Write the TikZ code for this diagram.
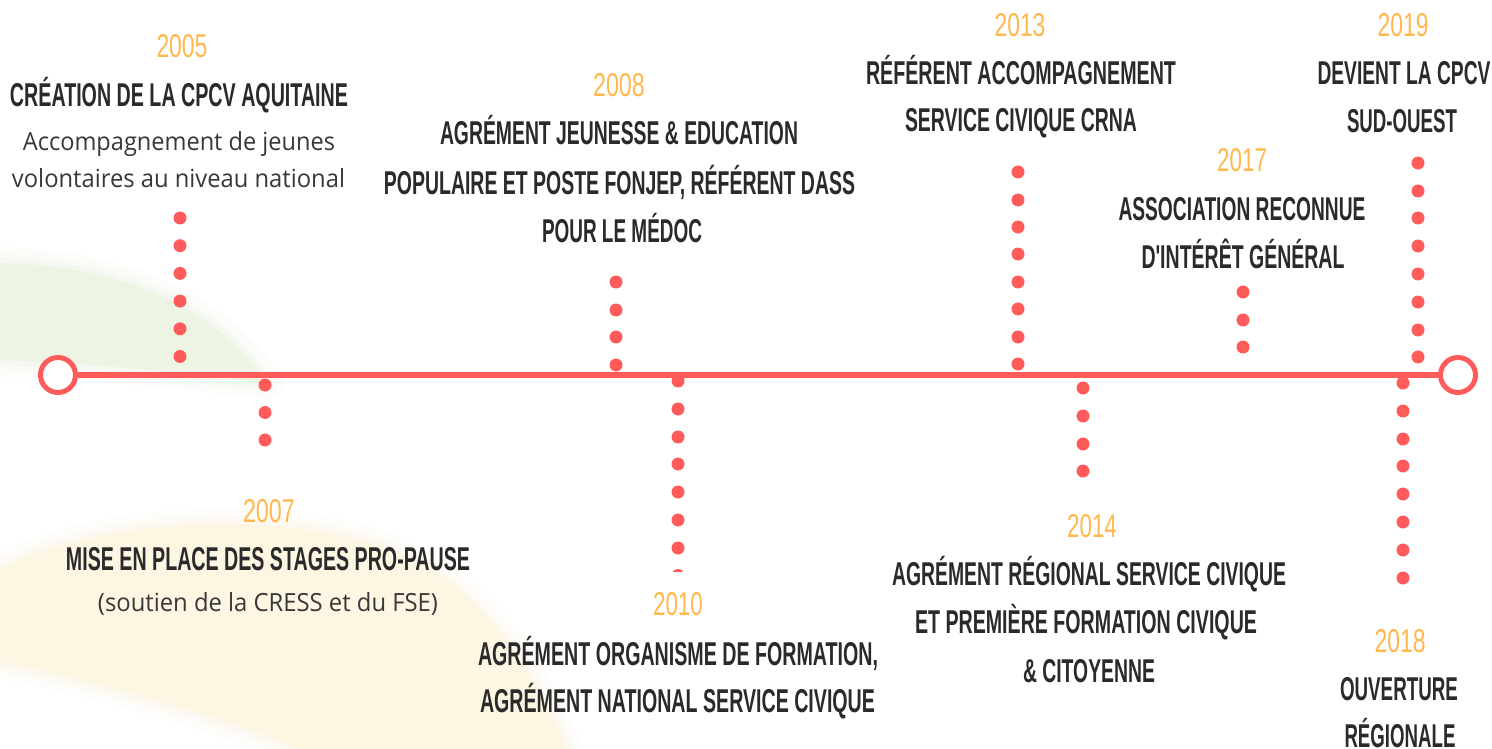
\documentclass[tikz,border=0pt]{standalone}
\usepackage{fontspec}
\usepackage{graphicx}
\setmainfont{Open Sans}
\newfontfamily\capsfam{Liberation Sans}
\newcommand\ttlfont{\capsfam\bfseries\fontsize{33}{33}\selectfont}
\newcommand\yrfont{\capsfam\fontsize{33}{33}\selectfont}
\newcommand\subfont{\fontsize{25}{25}\selectfont}
\newcommand\fitto[2]{\resizebox{#1pt}{\height}{#2}}
\definecolor{linered}{HTML}{FF5B5B}
\definecolor{yearc}{HTML}{FFB84D}
\definecolor{ttlc}{HTML}{2A2A2A}
\definecolor{subc}{HTML}{383838}
\definecolor{bggreen}{HTML}{EEF4E3}
\definecolor{bgyellow}{HTML}{FDF6E3}
\newcommand\softblob[2]{%
  \draw[#1, line width=32, opacity=0.12, line join=round] #2;
  \draw[#1, line width=20, opacity=0.2, line join=round] #2;
  \draw[#1, line width=10, opacity=0.3, line join=round] #2;
  \fill[#1] #2;}
\begin{document}
\begin{tikzpicture}[x=1pt,y=-1pt,
  yr/.style={font=\yrfont, text=yearc, anchor=base, inner sep=0},
  ttl/.style={font=\ttlfont, text=ttlc, anchor=base, inner sep=0},
  sub/.style={font=\subfont, text=subc, anchor=base, inner sep=0},
  ring/.style={circle, draw=linered, line width=5, fill=white, minimum size=35, inner sep=0},
  dotc/.style={fill=linered}]
\useasboundingbox (0,0) rectangle (1492,749);
\fill[white] (0,0) rectangle (1492,749);
% soft background arcs
\softblob{bggreen}{(-10,263) .. controls (110,263) and (210,300) .. (268,384) .. controls (200,374) and (80,362) .. (-10,360) -- cycle}
\softblob{bgyellow}{(-10,575) .. controls (80,520) and (300,500) .. (421,564) .. controls (490,600) and (540,680) .. (575,770) -- (345,770) .. controls (250,722) and (100,682) .. (-10,660) -- cycle}
% dots
\foreach \y in {218,245.7,273.4,301.1,328.8,356.5} \fill[dotc] (180,\y) circle (6.5);
\foreach \y in {385,412.5,440} \fill[dotc] (265,\y) circle (6.5);
\foreach \y in {282,310,337,365} \fill[dotc] (616,\y) circle (6.5);
\foreach \y in {381,409,437,464,492,520,548} \fill[dotc] (678,\y) circle (6.5);
\begin{scope}
  \clip (660,560) rectangle (700,571);
  \fill[dotc] (678,575.5) circle (6.5);
\end{scope}
\foreach \y in {172,200,227,254,282,309,337,364} \fill[dotc] (1018,\y) circle (6.5);
\foreach \y in {388,416,444,471} \fill[dotc] (1083,\y) circle (6.5);
\foreach \y in {292,320,347} \fill[dotc] (1243,\y) circle (6.5);
\foreach \y in {163,191,218,246,274,302,330,357} \fill[dotc] (1418,\y) circle (6.5);
\foreach \y in {383,411,439,466,494,522,550,578} \fill[dotc] (1403,\y) circle (6.5);
% timeline
\node[ring] (start) at (58,375) {};
\node[ring] (end) at (1458,375) {};
\draw[linered, line width=6.5] (start) -- (end);
% 2005
\node[yr] (y05) at (182,58) {\fitto{51}{2005}};
\node[ttl] (t05) at (179,107) {\fitto{338}{CRÉATION DE LA CPCV AQUITAINE}};
\node[sub] (s05a) at (179,151) {\fitto{312}{Accompagnement de jeunes}};
\node[sub] (s05b) at (178.5,187) {\fitto{333}{volontaires au niveau national}};
% 2007
\node[yr] (y07) at (269,522) {\fitto{52}{2007}};
\node[ttl] (t07) at (268,570) {\fitto{404}{MISE EN PLACE DES STAGES PRO-PAUSE}};
\node[sub] (s07) at (268,611) {\fitto{340}{(soutien de la CRESS et du FSE)}};
% 2008
\node[yr] (y08) at (619,97) {\fitto{52}{2008}};
\node[ttl] (t08a) at (619,145) {\fitto{358}{AGRÉMENT JEUNESSE \& EDUCATION}};
\node[ttl] (t08b) at (619.5,194) {\fitto{471}{POPULAIRE ET POSTE FONJEP, RÉFÉRENT DASS}};
\node[ttl] (t08c) at (622,242) {\fitto{160}{POUR LE MÉDOC}};
% 2010
\node[yr] (y10) at (678,615) {\fitto{50}{2010}};
\node[ttl] (t10a) at (678,665) {\fitto{400}{AGRÉMENT ORGANISME DE FORMATION,}};
\node[ttl] (t10b) at (677.5,712) {\fitto{395}{AGRÉMENT NATIONAL SERVICE CIVIQUE}};
% 2013
\node[yr] (y13) at (1020,37) {\fitto{51}{2013}};
\node[ttl] (t13a) at (1021,85) {\fitto{310}{RÉFÉRENT ACCOMPAGNEMENT}};
\node[ttl] (t13b) at (1021,132) {\fitto{232}{SERVICE CIVIQUE CRNA}};
% 2014
\node[yr] (y14) at (1092,537) {\fitto{50}{2014}};
\node[ttl] (t14a) at (1089,585) {\fitto{394}{AGRÉMENT RÉGIONAL SERVICE CIVIQUE}};
\node[ttl] (t14b) at (1086,633) {\fitto{342}{ET PREMIÈRE FORMATION CIVIQUE}};
\node[ttl] (t14c) at (1089,682) {\fitto{132}{\& CITOYENNE}};
% 2017
\node[yr] (y17) at (1242,172) {\fitto{50}{2017}};
\node[ttl] (t17a) at (1242,220) {\fitto{247}{ASSOCIATION RECONNUE}};
\node[ttl] (t17b) at (1243,268) {\fitto{203}{D'INTÉRÊT GÉNÉRAL}};
% 2019
\node[yr] (y19) at (1403,37) {\fitto{51}{2019}};
\node[ttl] (t19a) at (1404,85) {\fitto{173}{DEVIENT LA CPCV}};
\node[ttl] (t19b) at (1402,133) {\fitto{110}{SUD-OUEST}};
% 2018
\node[yr] (y18) at (1400,652) {\fitto{51}{2018}};
\node[ttl] (t18a) at (1399,700) {\fitto{118}{OUVERTURE}};
\node[ttl] (t18b) at (1400,747) {\fitto{111}{RÉGIONALE}};
\end{tikzpicture}
\end{document}
